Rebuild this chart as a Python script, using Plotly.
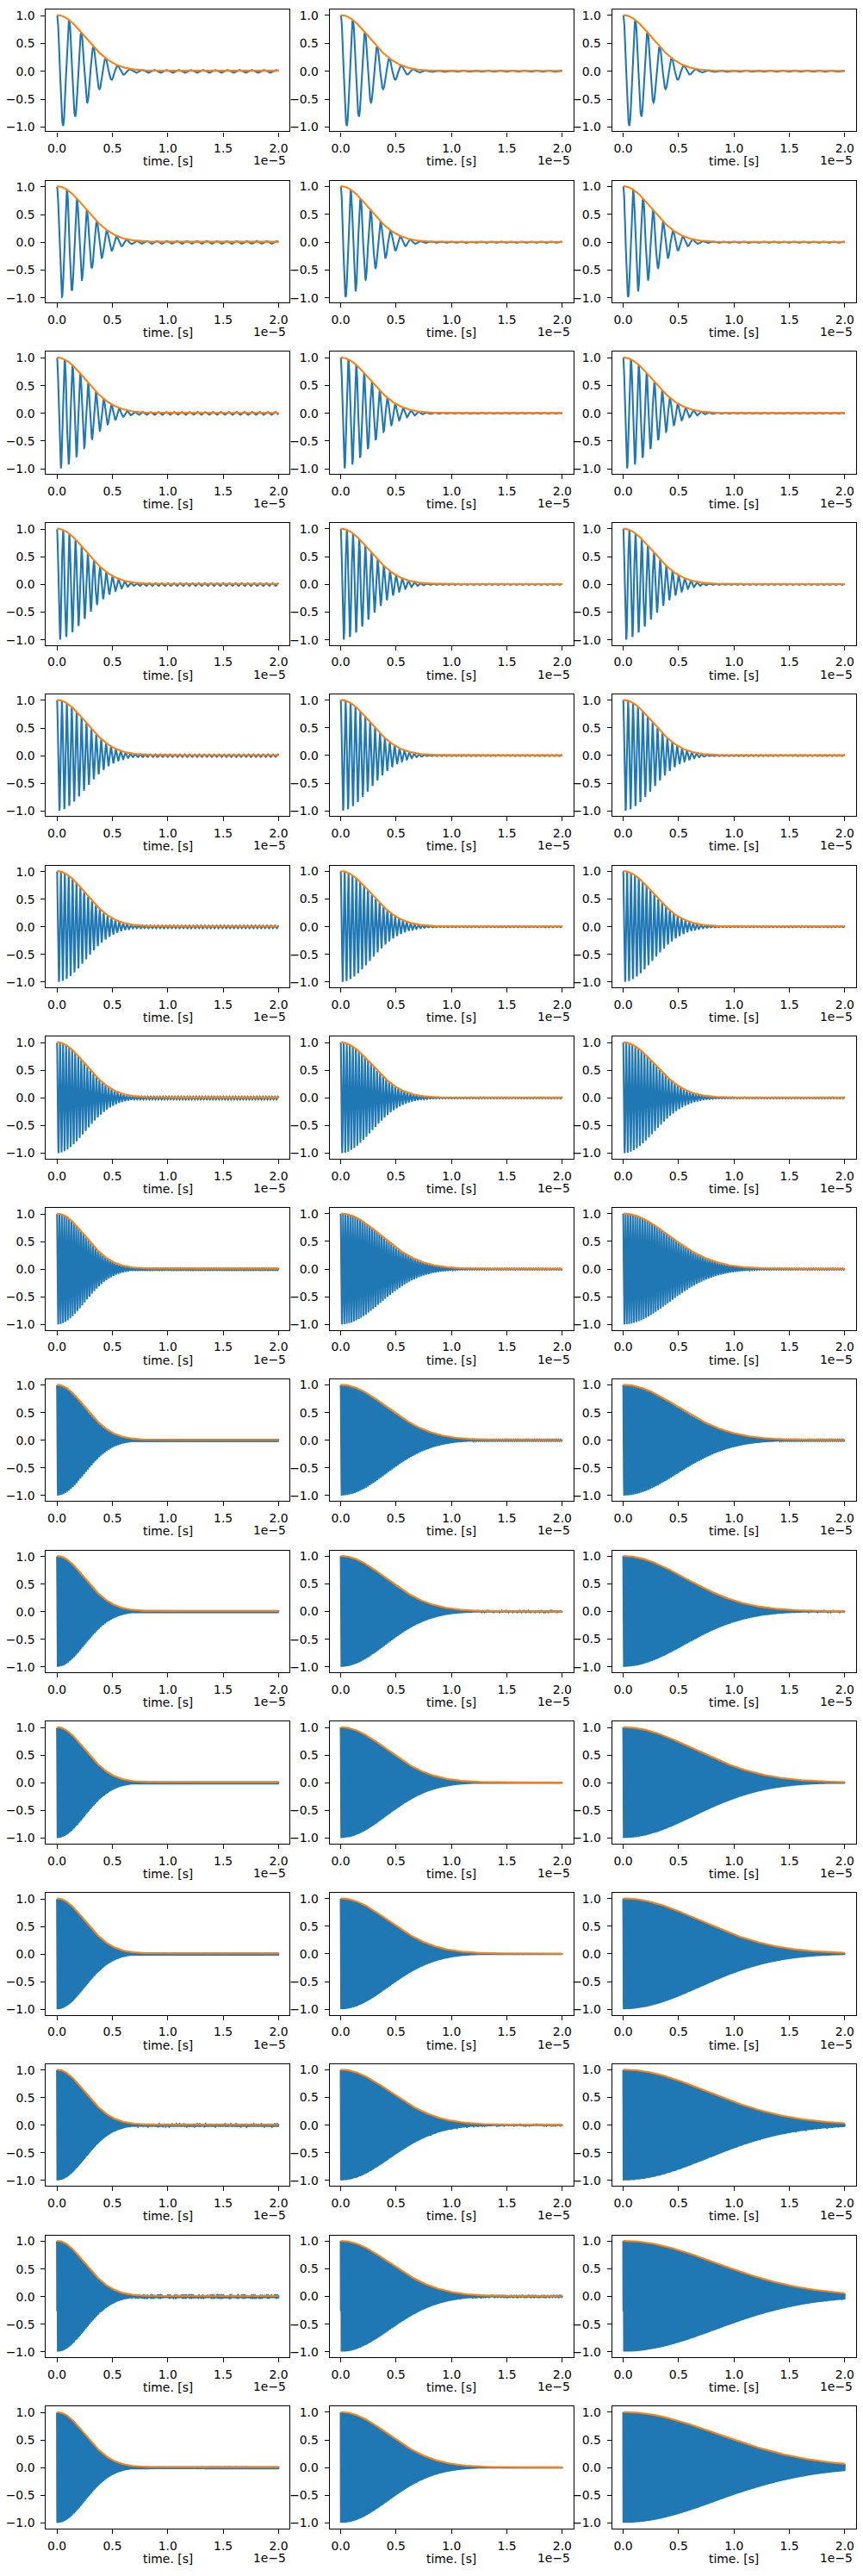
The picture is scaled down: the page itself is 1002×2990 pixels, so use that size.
import numpy as np
import plotly.graph_objects as go

# ---- values ----
N_ROWS, N_COLS = 15, 3
# carrier frequency per row (MHz), read from peak spacing
FREQ_MHZ = [0.91, 1.11, 1.42, 1.80, 2.26, 2.85, 3.66, 4.6, 5.9, 7.5, 9.5, 12.0, 15.3, 19.5, 25.0]
# Gaussian envelope width per row (in units of 1e-5 s), one list per column
TAU_COL1 = [0.36, 0.36, 0.36, 0.36, 0.36, 0.36, 0.36, 0.35, 0.35, 0.35, 0.35, 0.35, 0.35, 0.35, 0.35]
TAU_COL2 = [0.36, 0.36, 0.37, 0.37, 0.37, 0.38, 0.39, 0.51, 0.58, 0.57, 0.58, 0.60, 0.62, 0.62, 0.60]
TAU_COL3 = [0.36, 0.36, 0.37, 0.37, 0.37, 0.38, 0.40, 0.58, 0.69, 0.78, 0.90, 0.97, 1.07, 1.17, 1.20]
TAUS = [TAU_COL1, TAU_COL2, TAU_COL3]
# small residual ripple level after the pulse, per column
RESIDUAL = [0.025, 0.012, 0.012]
T_END = 2e-5
X_TICKS = [0.0, 0.5e-5, 1.0e-5, 1.5e-5, 2.0e-5]
X_TICKTEXT = ["0.0", "0.5", "1.0", "1.5", "2.0"]
Y_TICKS = [-1.0, -0.5, 0.0, 0.5, 1.0]
Y_TICKTEXT = ["\u22121.0", "\u22120.5", "0.0", "0.5", "1.0"]
X_LABEL = "time. [s]"
OFFSET_LABEL = "1e\u22125"

BLUE = "#1f77b4"
ORANGE = "#ff7f0e"
FONT = dict(family="DejaVu Sans", size=13.9, color="black")

W, H = 1002, 2990
COL_LEFT = [53.3, 382.7, 710.7]
COL_W = 283.0
ROW_TOP0 = 10.0
ROW_PITCH = 199.0
ROW_H = 141.7

fig = go.Figure()
annotations = []
layout_axes = {}

t = np.linspace(0, T_END, 8000)
t_env = np.linspace(0, T_END, 400)

k = 0
for r in range(N_ROWS):
    f = FREQ_MHZ[r] * 1e6
    for c in range(N_COLS):
        k += 1
        tau = TAUS[c][r] * 1e-5
        res = RESIDUAL[c]
        g = np.exp(-(t / tau) ** 2)
        blue = np.cos(2 * np.pi * f * t) * np.maximum(g, res)
        orange = np.exp(-(t_env / tau) ** 2) + res * 0.4
        xs = "x" if k == 1 else f"x{k}"
        ys = "y" if k == 1 else f"y{k}"
        fig.add_trace(go.Scatter(x=t, y=blue, mode="lines", xaxis=xs, yaxis=ys,
                                 line=dict(color=BLUE, width=2.08), showlegend=False,
                                 hoverinfo="skip"))
        fig.add_trace(go.Scatter(x=t_env, y=orange, mode="lines", xaxis=xs, yaxis=ys,
                                 line=dict(color=ORANGE, width=2.08), showlegend=False,
                                 hoverinfo="skip"))
        hi = max(blue.max(), orange.max())
        lo = min(blue.min(), orange.min())
        pad = 0.05 * (hi - lo)

        left = COL_LEFT[c]
        right = left + COL_W
        top = ROW_TOP0 + ROW_PITCH * r
        bottom = top + ROW_H
        xd = [left / W, right / W]
        yd = [1 - bottom / H, 1 - top / H]
        xname = "xaxis" if k == 1 else f"xaxis{k}"
        yname = "yaxis" if k == 1 else f"yaxis{k}"
        common = dict(showgrid=False, zeroline=False, showline=True, mirror=True,
                      linecolor="black", linewidth=1.1, ticks="outside", ticklen=5,
                      tickwidth=1.1, tickcolor="black", tickfont=FONT, fixedrange=True)
        layout_axes[xname] = dict(domain=xd, anchor=ys, range=[-0.1e-5, 2.1e-5],
                                  tickvals=X_TICKS, ticktext=X_TICKTEXT,
                                  ticklabelstandoff=2, **common)
        layout_axes[yname] = dict(domain=yd, anchor=xs, range=[lo - pad, hi + pad],
                                  tickvals=Y_TICKS, ticktext=Y_TICKTEXT,
                                  ticklabelstandoff=4, **common)
        annotations.append(dict(text=X_LABEL, xref="paper", yref="paper",
                                x=(left + right) / 2 / W, y=1 - (bottom + 35) / H,
                                xanchor="center", yanchor="middle", showarrow=False,
                                font=FONT))
        annotations.append(dict(text=OFFSET_LABEL, xref="paper", yref="paper",
                                x=(right - 2) / W, y=1 - (bottom + 34) / H,
                                xanchor="right", yanchor="middle", showarrow=False,
                                font=FONT))

fig.update_layout(width=W, height=H, margin=dict(l=0, r=0, t=0, b=0),
                  paper_bgcolor="white", plot_bgcolor="white",
                  annotations=annotations, font=FONT, **layout_axes)

fig.write_html("out.html")
